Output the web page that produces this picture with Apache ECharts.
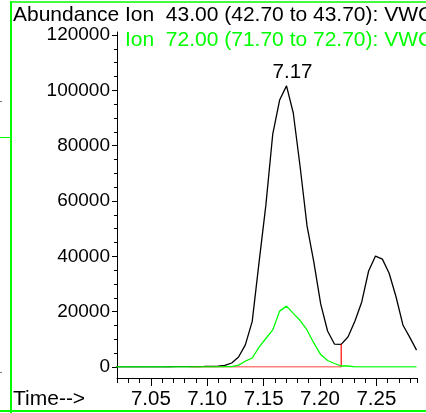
<!DOCTYPE html>
<html>
<head>
<meta charset="utf-8">
<script src="https://cdn.jsdelivr.net/npm/echarts@6/dist/echarts.min.js"></script>
<style>
html,body{margin:0;padding:0;background:#fff;}
#c{width:426px;height:413px;}
</style>
</head>
<body>
<div id="c"></div>
<script>
// Retention times (min), one per scan
const times = [7.0185,7.0246,7.0306,7.0367,7.0428,7.0488,7.0549,7.0610,7.0671,7.0731,
  7.0792,7.0853,7.0913,7.0974,7.1035,7.1095,7.1156,7.1217,7.1278,7.1338,
  7.1399,7.1460,7.1520,7.1581,7.1642,7.1703,7.1763,7.1824,7.1885,7.1945,
  7.2006,7.2067,7.2128,7.2188,7.2249,7.2310,7.2370,7.2431,7.2492,7.2553,
  7.2613,7.2674,7.2735,7.2795,7.2856];
// Ion 43.00 abundance
const ion43 = [50,40,60,50,70,60,80,70,90,100,
  110,130,160,190,240,330,560,1450,3600,8000,
  16500,38000,58500,84200,96500,101600,91800,72300,51000,38000,
  22800,13000,8300,8200,10950,16600,23500,34700,40100,39000,
  33900,25400,15200,10800,6100];
// Ion 72.00 abundance
const ion72 = [20,30,20,30,20,30,20,30,20,30,
  20,30,20,30,50,80,120,150,700,2100,
  3250,7200,10300,13400,20200,22000,19400,16800,13400,8700,
  4500,2350,1260,360,360,60,50,40,50,40,
  50,40,50,40,50];
// Integration of the 7.17 peak (start / end times)
const integStart = 7.0853;
const integEnd = 7.2188;
const peakLabel = '7.17';
// Axis ticks
const xMajorTicks = [7.05, 7.10, 7.15, 7.20, 7.25];
const xMin = 7.02, xMax = 7.286;
const yMax = 120000, yStep = 20000;

const FONT = '"Liberation Sans", Arial, sans-serif';
const GREEN = '#00ff00';

const blackData = times.map((t, i) => [t, ion43[i]]);
const greenData = times.map((t, i) => [t, ion72[i]]);
const endIdx = times.indexOf(integEnd);
const redData = [[integStart, 0], [integEnd, 0], [integEnd, ion43[endIdx]]];
let peakIdx = 0;
ion43.forEach((v, i) => { if (v > ion43[peakIdx]) peakIdx = i; });

const chart = echarts.init(document.getElementById('c'), null, {renderer: 'canvas'});
chart.setOption({
  animation: false,
  backgroundColor: '#ffffff',
  grid: [
    {left: 117, right: 9, top: 32, bottom: 35},
    {left: 117, right: 9, top: 35, bottom: 46}
  ],
  xAxis: [
    {gridIndex: 0, type: 'value', position: 'bottom', min: xMin, max: xMax, interval: 0.01,
     axisLine: {show: true, lineStyle: {color: '#000', width: 1}},
     axisTick: {show: true, length: 5, lineStyle: {color: '#000', width: 1}},
     axisLabel: {show: true, margin: 11, color: '#000', fontSize: 20.5, fontFamily: FONT,
       formatter: v => (Math.abs(v * 20 - Math.round(v * 20)) < 1e-6) ? v.toFixed(2) : ''},
     splitLine: {show: false}},
    {gridIndex: 0, type: 'value', position: 'bottom', offset: 0, min: xMin, max: xMax,
     axisLine: {show: false},
     axisTick: {show: true, length: 8, customValues: xMajorTicks, lineStyle: {color: '#000', width: 1}},
     axisLabel: {show: false},
     splitLine: {show: false}},
    {gridIndex: 1, type: 'value', min: xMin, max: xMax, show: false}
  ],
  yAxis: [
    {gridIndex: 0, type: 'value', min: 0, max: 1,
     axisLine: {show: true, lineStyle: {color: '#000', width: 1}},
     axisTick: {show: false}, axisLabel: {show: false}, splitLine: {show: false}},
    {gridIndex: 1, type: 'value', min: 0, max: yMax, interval: yStep,
     axisLine: {show: false},
     axisTick: {show: true, length: 5, lineStyle: {color: '#000', width: 1}},
     minorTick: {show: true, splitNumber: 4, length: 3, lineStyle: {color: '#000', width: 1}},
     axisLabel: {show: true, margin: 7, color: '#000', fontSize: 19, fontFamily: FONT,
       formatter: v => String(v)},
     splitLine: {show: false}}
  ],
  series: [
    {type: 'line', xAxisIndex: 2, yAxisIndex: 1, data: blackData, showSymbol: false, symbol: 'none',
     lineStyle: {color: '#000', width: 1.3}, z: 2,
     markPoint: {symbol: 'circle', symbolSize: 0, silent: true,
       data: [{coord: [times[peakIdx], ion43[peakIdx]]}],
       label: {show: true, position: 'top', distance: 3, offset: [6, 0], formatter: peakLabel,
         color: '#000', fontSize: 20.5, fontFamily: FONT}}},
    {type: 'line', xAxisIndex: 2, yAxisIndex: 1, data: redData, showSymbol: false, symbol: 'none',
     lineStyle: {color: '#ff0000', width: 1.2}, z: 3},
    {type: 'line', xAxisIndex: 2, yAxisIndex: 1, data: greenData, showSymbol: false, symbol: 'none',
     lineStyle: {color: GREEN, width: 1.3}, z: 4}
  ],
  graphic: [
    {type: 'line', shape: {x1: 11, y1: 1, x2: 11, y2: 413}, style: {stroke: GREEN, lineWidth: 2}},
    {type: 'line', shape: {x1: 11, y1: 2, x2: 426, y2: 2}, style: {stroke: GREEN, lineWidth: 1.5}},
    {type: 'line', shape: {x1: 0, y1: 411, x2: 426, y2: 411}, style: {stroke: GREEN, lineWidth: 2}},
    {type: 'line', shape: {x1: 0, y1: 137.5, x2: 11, y2: 137.5}, style: {stroke: GREEN, lineWidth: 1}},
    {type: 'line', shape: {x1: 0, y1: 101.5, x2: 2, y2: 101.5}, style: {stroke: '#777', lineWidth: 1}},
    {type: 'line', shape: {x1: 0, y1: 372.5, x2: 2, y2: 372.5}, style: {stroke: '#777', lineWidth: 1}},
    {type: 'text', style: {text: 'Abundance', x: 13, y: 15, font: '21px ' + FONT, fill: '#000', verticalAlign: 'middle', textVerticalAlign: 'middle'}},
    {type: 'text', style: {text: 'Ion  43.00 (42.70 to 43.70): VWC', x: 125, y: 15, font: '21px ' + FONT, fill: '#000', verticalAlign: 'middle', textVerticalAlign: 'middle'}},
    {type: 'text', style: {text: 'Ion  72.00 (71.70 to 72.70): VWC', x: 125, y: 40, font: '21px ' + FONT, fill: GREEN, verticalAlign: 'middle', textVerticalAlign: 'middle'}},
    {type: 'text', style: {text: 'Time-->', x: 13, y: 399, font: '21px ' + FONT, fill: '#000', verticalAlign: 'middle', textVerticalAlign: 'middle'}}
  ]
});
</script>
</body>
</html>
